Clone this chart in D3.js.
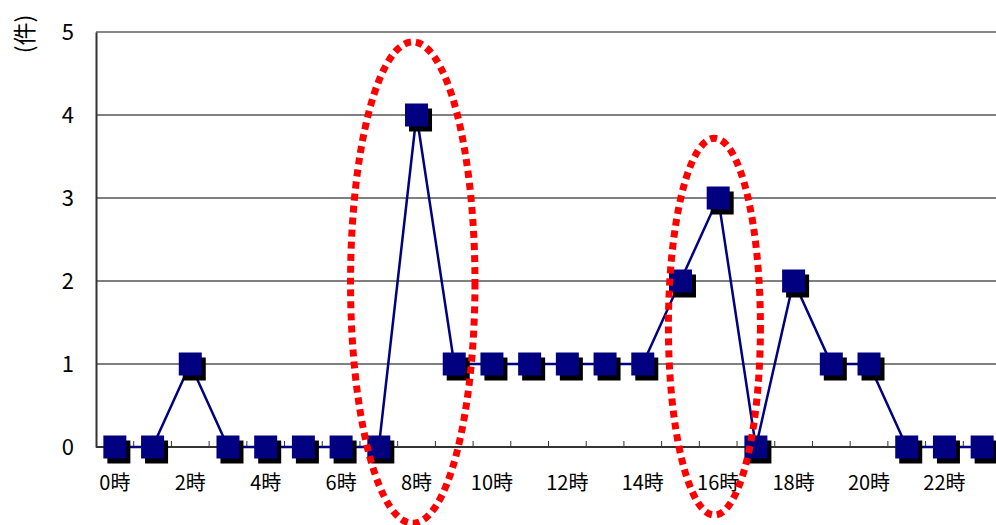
<!DOCTYPE html>
<html>
<head>
<meta charset="utf-8">
<script src="https://cdn.jsdelivr.net/npm/d3@7"></script>
<style>
  html, body { margin: 0; padding: 0; background: #fff; }
  svg { display: block; font-family: "Noto Sans CJK JP", "Noto Sans", sans-serif; }
</style>
</head>
<body>
<svg id="chart" width="996" height="525"></svg>
<script>
// Hourly incident counts (件), 0時〜23時
const hours = d3.range(24);
const counts = [0, 0, 1, 0, 0, 0, 0, 0, 4, 1, 1, 1, 1, 1, 1, 2, 3, 0, 2, 1, 1, 0, 0, 0];
const yTicks = [0, 1, 2, 3, 4, 5];
const xLabelHours = [0, 2, 4, 6, 8, 10, 12, 14, 16, 18, 20, 22];

// Highlighted time windows: centre (hour, count) and half-extents in data units
const highlightHour = [7.9, 15.9];
const highlightCount = [1.98, 1.45];
const highlightHalfHours = [1.65, 1.22];
const highlightHalfCount = [2.9, 2.27];

const svg = d3.select("#chart");
const plot = { left: 96, right: 1001, top: 32, bottom: 447 };

const x = d3.scaleBand().domain(hours).range([plot.left, plot.right]).padding(0);
const y = d3.scaleLinear().domain([0, 5]).range([plot.bottom, plot.top]);
const xc = h => x(h) + x.bandwidth() / 2;
const xHour = d3.scaleLinear().domain([0, 23]).range([xc(0), xc(23)]);

// Horizontal gridlines
svg.append("g")
  .selectAll("line")
  .data(yTicks.filter(t => t > 0 && t < 5))
  .join("line")
  .attr("x1", plot.left).attr("x2", 996)
  .attr("y1", d => y(d)).attr("y2", d => y(d))
  .attr("stroke", "#000").attr("stroke-width", 1);

// Top frame line
svg.append("line")
  .attr("x1", plot.left).attr("x2", 996)
  .attr("y1", y(5)).attr("y2", y(5))
  .attr("stroke", "#888").attr("stroke-width", 2);

// Y axis
const yAxis = svg.append("g")
  .attr("transform", `translate(${plot.left},0)`)
  .call(d3.axisLeft(y).tickValues(yTicks).tickSize(0).tickPadding(22).tickFormat(d3.format("d")));
yAxis.select(".domain").attr("stroke", "#333").attr("stroke-width", 2);
yAxis.selectAll("text")
  .attr("font-size", 22).attr("fill", "#000")
  .style("font-family", "'Noto Sans CJK JP', sans-serif");

// X axis with inward ticks at category boundaries
const xAxis = svg.append("g")
  .attr("transform", `translate(0,${plot.bottom})`);
xAxis.append("line")
  .attr("x1", plot.left).attr("x2", 996)
  .attr("stroke", "#333").attr("stroke-width", 2);
xAxis.selectAll("line.tick")
  .data(hours.slice(1))
  .join("line")
  .attr("class", "tick")
  .attr("x1", d => x(d)).attr("x2", d => x(d))
  .attr("y1", 0).attr("y2", -6)
  .attr("stroke", "#333").attr("stroke-width", 1);
xAxis.selectAll("text")
  .data(xLabelHours)
  .join("text")
  .attr("x", d => xc(d))
  .attr("y", 43)
  .attr("text-anchor", "middle")
  .attr("font-size", 20)
  .attr("fill", "#000")
  .text(d => `${d}時`);

// Y axis title
svg.append("text")
  .attr("transform", "translate(23,34) rotate(-90)")
  .attr("text-anchor", "middle")
  .attr("dominant-baseline", "central")
  .attr("font-size", 23)
  .attr("fill", "#000")
  .text("(件)");

// Series line
const line = d3.line().x(d => xc(d[0])).y(d => y(d[1]));
svg.append("path")
  .datum(hours.map((h, i) => [h, counts[i]]))
  .attr("d", line)
  .attr("fill", "none")
  .attr("stroke", "#000080")
  .attr("stroke-width", 2.5);

// Square markers with drop shadow
const ms = 23, shadowX = 4, shadowY = 5;
const markers = svg.append("g");
markers.selectAll("rect.shadow")
  .data(hours)
  .join("rect")
  .attr("class", "shadow")
  .attr("x", d => xc(d) - ms / 2 + shadowX)
  .attr("y", (d, i) => y(counts[i]) - ms / 2 + shadowY)
  .attr("width", ms).attr("height", ms)
  .attr("fill", "#000");
markers.selectAll("rect.mark")
  .data(hours)
  .join("rect")
  .attr("class", "mark")
  .attr("x", d => xc(d) - ms / 2)
  .attr("y", (d, i) => y(counts[i]) - ms / 2)
  .attr("width", ms).attr("height", ms)
  .attr("fill", "#000080");

// Red dotted ellipses around peak windows
svg.append("g")
  .selectAll("ellipse")
  .data(highlightHour.map((h, i) => i))
  .join("ellipse")
  .attr("cx", i => xHour(highlightHour[i]))
  .attr("cy", i => y(highlightCount[i]))
  .attr("rx", i => xHour(highlightHalfHours[i]) - xHour(0))
  .attr("ry", i => y(0) - y(highlightHalfCount[i]))
  .attr("fill", "none")
  .attr("stroke", "#ff0000")
  .attr("stroke-width", 7)
  .attr("stroke-dasharray", "7,5");
</script>
</body>
</html>
